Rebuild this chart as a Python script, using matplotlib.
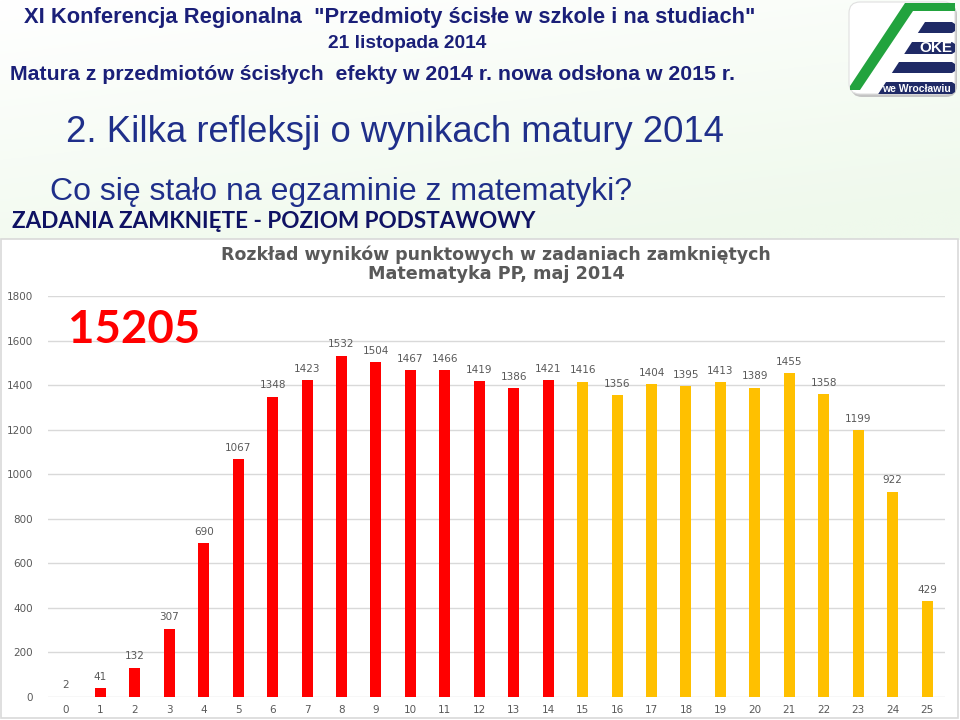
import numpy as np
import matplotlib
matplotlib.use("Agg")
import matplotlib.pyplot as plt
from matplotlib import font_manager
from matplotlib.patches import Rectangle, Polygon, FancyBboxPatch

# ---- data ----
scores = list(range(26))
counts = [2, 41, 132, 307, 690, 1067, 1348, 1423, 1532, 1504, 1467, 1466, 1419,
          1386, 1421, 1416, 1356, 1404, 1395, 1413, 1389, 1455, 1358, 1199, 922, 429]
bar_colors = ["#FF0000"] * 15 + ["#FFC000"] * 11
y_ticks = [0, 200, 400, 600, 800, 1000, 1200, 1400, 1600, 1800]
title_line1 = "Rozkład wyników punktowych w zadaniach zamkniętych"
title_line2 = "Matematyka PP, maj 2014"
total_label = "15205"
header1 = 'XI Konferencja Regionalna  "Przedmioty ścisłe w szkole i na studiach"'
header2 = "21 listopada 2014"
header3 = "Matura z przedmiotów ścisłych  efekty w 2014 r. nowa odsłona w 2015 r."
slide_title = "2. Kilka refleksji o wynikach matury 2014"
slide_sub = "Co się stało na egzaminie z matematyki?"
section = "ZADANIA ZAMKNIĘTE - POZIOM PODSTAWOWY"

W, H = 960, 720
fig = plt.figure(figsize=(9.6, 7.2), dpi=100)
renderer = fig.canvas.get_renderer()

installed = {f.name for f in font_manager.fontManager.ttflist}
narrow = ["Liberation Sans Narrow", "Liberation Sans", "DejaVu Sans"]
narrow = [f for f in narrow if f in installed] or ["DejaVu Sans"]
arial = [f for f in ["Liberation Sans", "DejaVu Sans"] if f in installed]


def fit_text(ax, x, x_left, x_right, y, s, ha="left", **kw):
    """Place text and scale its font size so that it spans x_left..x_right pixels."""
    t = ax.text(x, y, s, ha=ha, va="center", **kw)
    w = t.get_window_extent(renderer=renderer).width
    target = x_right - x_left
    t.set_fontsize(t.get_fontsize() * target / w)
    return t


bg = fig.add_axes([0, 0, 1, 1])
bg.axis("off")
gx = np.linspace(0, 1, 200)
gy = np.linspace(0, 1, 100)
GX, GY = np.meshgrid(gx, gy)
tgrad = np.clip(0.35 * GX + 0.75 * GY, 0, 1)
c0 = np.array([1.0, 1.0, 1.0])
c1 = np.array([0xEF, 0xF9, 0xEC]) / 255
img = c0[None, None, :] * (1 - tgrad[..., None]) + c1[None, None, :] * tgrad[..., None]
bg.imshow(img, extent=(0, W, 240, 0), aspect="auto", zorder=0)
bg.set_xlim(0, W)
bg.set_ylim(H, 0)

bg.add_patch(Rectangle((1, 239), 957, 479, facecolor="white", edgecolor="#D9D9D9", lw=1.2, zorder=1))

navy = "#1A1F78"
fit_text(bg, 390, 23, 757, 18, header1, ha="center", fontsize=15, color=navy,
         family=narrow, fontweight="bold", zorder=3)
fit_text(bg, 407, 327, 487, 44, header2, ha="center", fontsize=15, color=navy,
         family=narrow, fontweight="bold", zorder=3)
fit_text(bg, 10, 10, 737, 75, header3, ha="left", fontsize=15, color=navy,
         family=narrow, fontweight="bold", zorder=3)
fit_text(bg, 66, 66, 722, 132, slide_title, ha="left", fontsize=27, color="#1F2F8A",
         family=narrow, zorder=3)
fit_text(bg, 50, 50, 632, 192, slide_sub, ha="left", fontsize=24, color="#1F2F8A",
         family=narrow, zorder=3)
fit_text(bg, 12, 12, 536, 221, section, ha="left", fontsize=17, color="#0F1263",
         family=["Lato", "DejaVu Sans"], fontweight="bold", zorder=3)

# logo
bg.add_patch(FancyBboxPatch((851, 4), 106, 93, boxstyle="round,pad=0,rounding_size=11",
                            facecolor="#C4C4C4", edgecolor="none", zorder=2))
bg.add_patch(FancyBboxPatch((849, 2), 106, 92, boxstyle="round,pad=0,rounding_size=11",
                            facecolor="white", edgecolor="#E0E0E0", lw=0.8, zorder=3))
logo_navy = "#1F2A66"
bars = [(22, 33), (42, 54), (62, 73), (82, 94)]
for (y0, y1) in bars:
    xl0 = 925 + 0.65 * (22 - y0)
    xl1 = 925 + 0.65 * (22 - y1)
    bg.add_patch(Polygon([(xl0, y0), (952, y0), (955, y0 + 2), (955, y1 - 2), (952, y1), (xl1, y1)],
                         closed=True, facecolor=logo_navy, edgecolor="none", zorder=4))
bg.add_patch(Polygon([(850, 90), (860, 90), (913, 11), (955, 11), (955, 3), (905, 3), (850, 86)],
                     closed=True, facecolor="#22A33E", edgecolor="none", zorder=5))
bg.text(936, 48, "OKE", ha="center", va="center", fontsize=11, color="white",
        family=narrow, fontweight="bold", zorder=6)
bg.text(916, 88.5, "we Wrocławiu", ha="center", va="center", fontsize=7.5, color="white",
        family=narrow, fontweight="bold", zorder=6)

# chart axes
ax = fig.add_axes([48 / W, 1 - 697 / H, (945 - 48) / W, (697 - 296) / H])
ax.set_facecolor("none")
ax.bar(scores, counts, width=0.32, color=bar_colors, zorder=3)
ax.set_xlim(-0.52, 25.52)
ax.set_ylim(0, 1800)
ax.set_yticks(y_ticks)
ax.set_xticks(scores)
ax.grid(axis="y", color="#D9D9D9", lw=1, zorder=0)
for s in ax.spines.values():
    s.set_visible(False)
ax.tick_params(axis="both", length=0, colors="#595959", labelsize=7.5)
ax.tick_params(axis="y", pad=11)
ax.tick_params(axis="x", pad=6)
for x, v in zip(scores, counts):
    ax.annotate(str(v), (x, v), xytext=(0, 4.5), textcoords="offset points",
                ha="center", va="bottom", fontsize=7.5, color="#595959")

top = fig.add_axes([0, 0, 1, 1], zorder=5)
top.set_xlim(0, W)
top.set_ylim(H, 0)
top.axis("off")
fit_text(top, 496, 222, 771, 255, title_line1, ha="center", fontsize=12, color="#595959",
         fontweight="bold")
fit_text(top, 496, 369, 624, 274, title_line2, ha="center", fontsize=12, color="#595959",
         fontweight="bold")
fit_text(top, 68, 68, 200, 330, total_label, ha="left", fontsize=34, color="#FF0000",
         family=["Lato", "DejaVu Sans"], fontweight="bold")

fig.savefig("out.png", dpi=100)
